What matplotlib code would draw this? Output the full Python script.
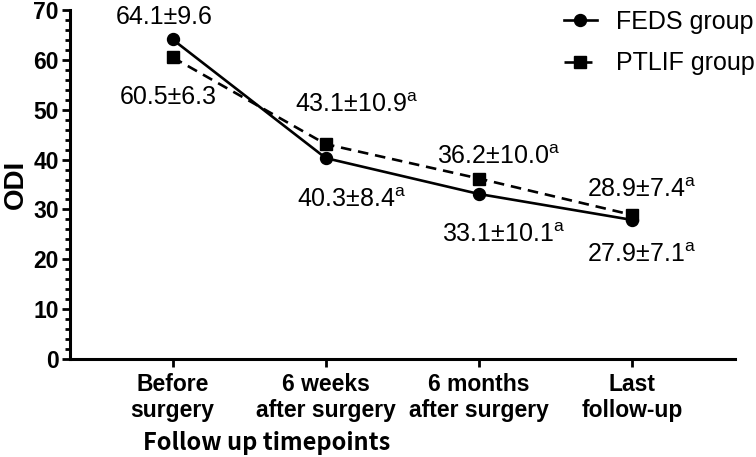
import matplotlib
matplotlib.use('Agg')
import matplotlib.pyplot as plt
from matplotlib.ticker import MultipleLocator

plt.rcParams['font.family'] = ['Liberation Sans', 'DejaVu Sans']
plt.rcParams['mathtext.fontset'] = 'custom'
plt.rcParams['mathtext.rm'] = 'Liberation Sans'

# data
timepoints = ['Before\nsurgery', '6 weeks\nafter surgery', '6 months\nafter surgery', 'Last\nfollow-up']
feds_mean = [64.1, 40.3, 33.1, 27.9]
feds_sd = [9.6, 8.4, 10.1, 7.1]
ptlif_mean = [60.5, 43.1, 36.2, 28.9]
ptlif_sd = [6.3, 10.9, 10.0, 7.4]
sig = ['', 'a', 'a', 'a']

x = list(range(len(timepoints)))

fig = plt.figure(figsize=(7.56, 4.57), dpi=100)
ax = fig.add_axes([0.0926, 0.2144, 0.8794, 0.7636])

ax.plot(x, feds_mean, color='black', lw=1.9, marker='o', ms=8.6,
        label='FEDS group')
ax.plot(x, ptlif_mean, color='black', lw=1.9, ls=(0, (4, 2.6)), marker='s', ms=8.0,
        label='PTLIF group')

def lab(m, s, a):
    t = f'{m:.1f}\u00b1{s:.1f}'
    if a:
        t += r'$^{\mathrm{' + a + '}}$'
    return t

# label positions per point
feds_pos = [(-0.055, 68.7), (1.17, 31.9), (2.16, 24.8), (3.06, 20.8)]
ptlif_pos = [(-0.026, 52.5), (1.20, 50.9), (2.13, 40.5), (3.06, 33.9)]
for i in x:
    ax.text(feds_pos[i][0], feds_pos[i][1], lab(feds_mean[i], feds_sd[i], sig[i]),
            ha='center', va='center', fontsize=18)
    ax.text(ptlif_pos[i][0], ptlif_pos[i][1], lab(ptlif_mean[i], ptlif_sd[i], sig[i]),
            ha='center', va='center', fontsize=18)

ax.set_xlim(-0.67, 3.67)
ax.set_ylim(0, 70)
ax.set_xticks(x)
ax.set_xticklabels(timepoints, fontsize=16.5, fontweight='bold', linespacing=1.15)
ax.yaxis.set_major_locator(MultipleLocator(10))
ax.yaxis.set_minor_locator(MultipleLocator(2))
for t in ax.get_yticklabels():
    t.set_fontsize(16.5)
    t.set_fontweight('bold')

ax.tick_params(axis='y', which='major', length=6, width=2, pad=2)
ax.tick_params(axis='y', which='minor', length=3.5, width=2)
ax.tick_params(axis='x', which='major', length=6, width=2, pad=4)

ax.spines['top'].set_visible(False)
ax.spines['right'].set_visible(False)
ax.spines['left'].set_linewidth(2.2)
ax.spines['bottom'].set_linewidth(2.2)

ax.set_ylabel('ODI', fontsize=20, fontweight='bold', labelpad=3)
ax.text(0.295, -0.241, 'Follow up timepoints', transform=ax.transAxes,
        ha='center', va='center', fontsize=17, fontweight='bold',
        family=['Noto Sans CJK SC', 'DejaVu Sans'])

ax.legend(loc='upper right', bbox_to_anchor=(1.015, 1.006),
          bbox_transform=fig.transFigure, frameon=False, borderpad=0,
          fontsize=18, handlelength=1.35, handletextpad=0.75, labelspacing=0.7)

fig.savefig('out.png', dpi=100, facecolor='white')
